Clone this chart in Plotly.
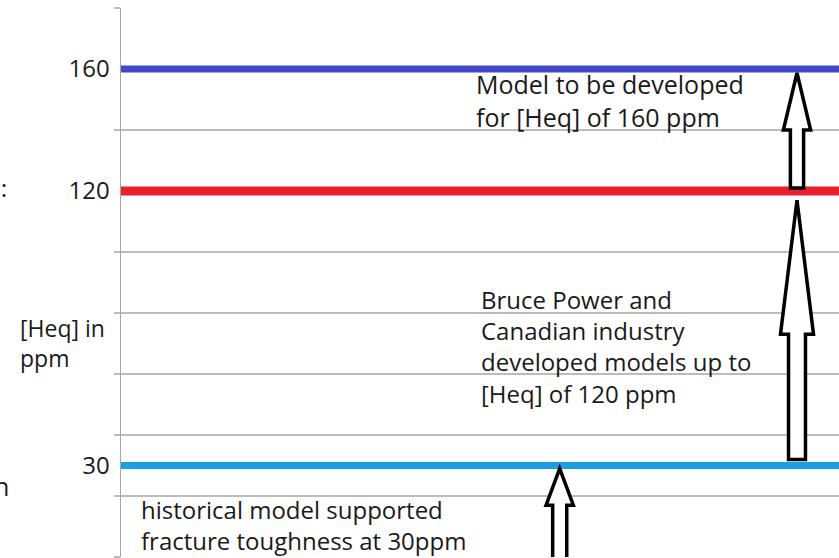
import plotly.graph_objects as go

# ---- data ----
level_names = ["historical", "current", "future"]
level_values = [30, 120, 160]          # [Heq] in ppm
level_colors = ["#1AA0E0", "#E8202A", "#4248C8"]
tick_vals = [30, 120, 160]
tick_text = ["30", "120", "160"]
grid_vals = [0, 20, 40, 60, 80, 100, 140, 180]
y_range = [0, 180]

# arrows: (x centre, tail value, head-base value, tip value, head half width, shaft half width)
arrows = [
    (0.611, -8, 17, 29, 0.019, 0.0098),
    (0.9415, 32, 73, 117, 0.023, 0.0118),
    (0.9415, 121, 140, 158.7, 0.019, 0.0092),
]

W, H = 839, 558
L, R, T, B = 121, 0, 8, 1
PW, PH = W - L - R, H - T - B


def px(x):  # page pixel -> paper fraction
    return (x - L) / PW


def py(y):
    return (H - B - y) / PH


fig = go.Figure()
for name, v, c in zip(level_names, level_values, level_colors):
    fig.add_trace(go.Scatter(x=[0, 1], y=[v, v], mode="lines",
                             line=dict(color=c, width=7 if v != 120 else 9),
                             name=name, showlegend=False, hoverinfo="skip"))

for xc, y0, yh, yt, hw, sw in arrows:
    path = (f"M {xc - sw} {y0} L {xc - sw} {yh} L {xc - hw} {yh} L {xc} {yt} "
            f"L {xc + hw} {yh} L {xc + sw} {yh} L {xc + sw} {y0} Z")
    fig.add_shape(type="path", path=path, xref="x", yref="y",
                  line=dict(color="black", width=3.5), fillcolor="white", layer="above")

texts = [
    ("Model to be developed<br>for [Heq] of 160 ppm", 474, 101, 25),
    ("Bruce Power and<br>Canadian industry<br>developed models up to<br>[Heq] of 120 ppm", 479, 346, 24),
    ("historical model supported<br>fracture toughness at 30ppm", 139, 525, 24),
    ("[Heq] in<br>ppm", 18, 343, 23),
    (":", -1, 188, 23),
    ("n", -8, 486, 25),
]
for t, x, y, s in texts:
    fig.add_annotation(text=t, x=px(x), y=py(y), xref="paper", yref="paper",
                       xanchor="left", yanchor="middle", align="left",
                       showarrow=False,
                       font=dict(family="Open Sans", size=s, color="#1a1a1a"))

fig.update_layout(
    width=W, height=H, margin=dict(l=L, r=R, t=T, b=B),
    paper_bgcolor="white", plot_bgcolor="white",
    xaxis=dict(range=[0, 1], visible=False, fixedrange=True),
    yaxis=dict(range=y_range, tickmode="array", tickvals=tick_vals, ticktext=tick_text,
               ticks="", showgrid=False, zeroline=False, fixedrange=True,
               showline=True, linecolor="#a6a6a6", linewidth=1.5,
               tickfont=dict(family="Open Sans", size=24, color="#1a1a1a"),
               ticklabelstandoff=5,
               minor=dict(tickmode="array", tickvals=grid_vals, ticks="outside",
                          ticklen=6, tickcolor="#bcbcbc", tickwidth=1.5,
                          showgrid=True, gridcolor="#bcbcbc", gridwidth=1.5)),
)

fig.write_html("out.html", config={"displayModeBar": False, "staticPlot": True},
               post_script="document.body.style.margin='0';document.body.style.overflow='hidden';")
